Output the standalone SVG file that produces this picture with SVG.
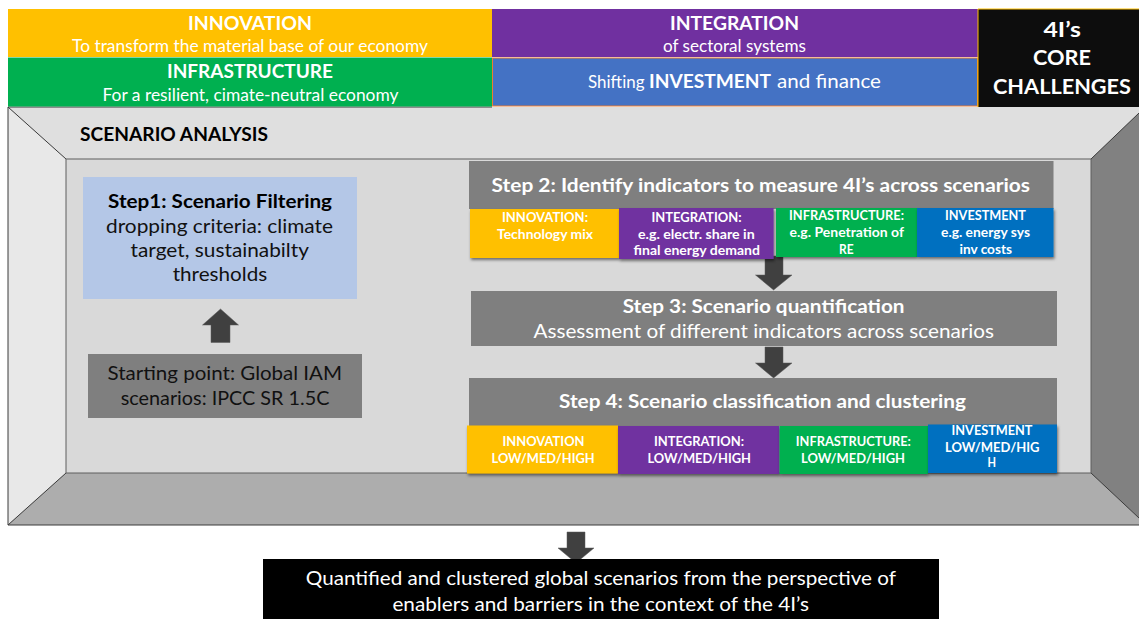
<svg xmlns="http://www.w3.org/2000/svg" width="1139" height="619" viewBox="0 0 1139 619">
<style>
text{font-family:"Lato","Carlito","Open Sans","Liberation Sans",sans-serif;text-anchor:start}
.w{fill:#fff}.k{fill:#000}.d{fill:#111}
.b{font-weight:700}
.s12{font-size:13px}.s16{font-size:16.500px}.s17{font-size:17px}.s18{font-size:19px}.s20{font-size:21px}
.frame{stroke:#3a3a3a;stroke-width:1}
.arrow{fill:#404040;stroke:#5a5a5a;stroke-width:.5}
.yel{fill:#FFC000}.pur{fill:#7030A0}.grn{fill:#00B050}.blu{fill:#0070C0}.gry{fill:#7F7F7F}
.sh{filter:url(#shadow)}
</style>
<defs>
<filter id="shadow" x="-10%" y="-10%" width="120%" height="130%"><feDropShadow dx="1" dy="2" stdDeviation="1.800" flood-color="#000" flood-opacity=".5"/></filter>
</defs>
<rect width="1139" height="619" fill="#fff"/>

<g id="frame">
<rect x="8" y="107" width="1131" height="418" fill="#D9D9D9"/>
<polygon points="8,107 1139,107 1139,113 1091,159 66,159" fill="#DFDFDF"/>
<polygon points="8,107 66,159 66,473 8,525" fill="#E8E8E8"/>
<polygon points="8,525 66,473 1091,473 1139,518 1139,525" fill="#ADADAD"/>
<polygon points="1091,159 1139,113 1139,518 1091,473" fill="#818181"/>
<path class="frame" fill="none" d="M492,107H8V525H1139M8,107L66,159M8,525L66,473M1139,113L1091,159M1139,518L1091,473"/>
<rect x="66" y="159" width="1025" height="314" fill="none" stroke="#5f5f5f" stroke-width="1"/>
<text class="k b s18" x="80" y="140.500" textLength="188" lengthAdjust="spacingAndGlyphs">SCENARIO ANALYSIS</text>
</g>

<g id="connectors">
<polygon class="arrow" points="211,342.500 230,342.500 230,325 238.500,325 220.500,309 202.500,325 211,325"/>
<polygon class="arrow" points="765,256 783,256 783,275 792,275 773.600,290 755.500,275 765,275"/>
<polygon class="arrow" points="765,347 783,347 783,363 792,363 773.600,378 755.500,363 765,363"/>
<polygon class="arrow" points="567,532 585,532 585,548 594,548 576,563 558,548 567,548"/>
</g>

<g id="banner-innovation">
<rect class="yel" x="8" y="9" width="484" height="48"/>
<text class="w b s18" x="188" y="29.500" textLength="124" lengthAdjust="spacingAndGlyphs">INNOVATION</text>
<text class="w s16" x="72" y="51.500" textLength="356" lengthAdjust="spacingAndGlyphs">To transform the material base of our economy</text>
</g>
<g id="banner-infrastructure">
<rect class="grn" x="8" y="57.500" width="484" height="49"/>
<text class="w b s18" x="167" y="78" textLength="166" lengthAdjust="spacingAndGlyphs">INFRASTRUCTURE</text>
<text class="w s16" x="102.500" y="100.500" textLength="296" lengthAdjust="spacingAndGlyphs">For a resilient, cimate-neutral economy</text>
</g>
<g id="banner-integration">
<rect class="pur" x="492" y="9" width="486" height="48"/>
<text class="w b s18" x="670" y="29.500" textLength="129" lengthAdjust="spacingAndGlyphs">INTEGRATION</text>
<text class="w s16" x="663" y="51.500" textLength="143" lengthAdjust="spacingAndGlyphs">of sectoral systems</text>
</g>
<g id="banner-investment">
<rect x="492.500" y="58" width="485" height="48" fill="#4472C4" stroke="#ED7D31" stroke-width="1"/>
<text class="w s18" y="88"><tspan class="s16" x="588" textLength="56.500" lengthAdjust="spacingAndGlyphs">Shifting</tspan> <tspan class="b" x="649" textLength="122" lengthAdjust="spacingAndGlyphs">INVESTMENT</tspan> <tspan x="777" textLength="104" lengthAdjust="spacingAndGlyphs">and finance</tspan></text>
</g>
<g id="banner-core">
<rect x="978" y="9" width="161" height="98" fill="#0D0D0D"/>
<path d="M978,107V9H1139" fill="none" stroke="#FFC000" stroke-width="1"/>
<text class="w b s20" x="1043.500" y="36.500" textLength="37.500" lengthAdjust="spacingAndGlyphs">4I’s</text>
<text class="w b s20" x="1033" y="65" textLength="58" lengthAdjust="spacingAndGlyphs">CORE</text>
<text class="w b s20" x="993" y="94" textLength="138" lengthAdjust="spacingAndGlyphs">CHALLENGES</text>
</g>

<g id="step1">
<rect x="83" y="177" width="274" height="122" fill="#B4C7E7"/>
<text class="k b s18" x="108" y="208" textLength="224" lengthAdjust="spacingAndGlyphs">Step1: Scenario Filtering</text>
<text class="d s18" x="106" y="233" textLength="227" lengthAdjust="spacingAndGlyphs">dropping criteria: climate</text>
<text class="d s18" x="130.500" y="257" textLength="178.500" lengthAdjust="spacingAndGlyphs">target, sustainabilty</text>
<text class="d s18" x="172.700" y="281" textLength="94.500" lengthAdjust="spacingAndGlyphs">thresholds</text>
</g>
<g id="start">
<rect class="gry" x="88" y="354" width="274" height="64"/>
<text class="d s18" x="107.600" y="380" textLength="234.400" lengthAdjust="spacingAndGlyphs">Starting point: Global IAM</text>
<text class="d s18" x="120.700" y="405" textLength="208.800" lengthAdjust="spacingAndGlyphs">scenarios: IPCC SR 1.5C</text>
</g>

<g id="step2">
<rect class="gry" x="469" y="161" width="584.500" height="48"/>
<text class="w b s18" x="491.600" y="191.700" textLength="538.400" lengthAdjust="spacingAndGlyphs">Step 2: Identify indicators to measure 4I’s across scenarios</text>
</g>
<g id="step2-innovation">
<rect class="yel sh" x="470" y="209" width="149" height="49"/>
<text class="w b s12" x="502" y="221.700" textLength="86" lengthAdjust="spacingAndGlyphs">INNOVATION:</text>
<text class="w b s12" x="497" y="238.700" textLength="96" lengthAdjust="spacingAndGlyphs">Technology mix</text>
</g>
<g id="step2-integration">
<rect class="pur sh" x="619" y="208" width="154.600" height="51"/>
<text class="w b s12" x="651.500" y="221.700" textLength="90" lengthAdjust="spacingAndGlyphs">INTEGRATION:</text>
<text class="w b s12" x="638" y="238.700" textLength="116.700" lengthAdjust="spacingAndGlyphs">e.g. electr. share in</text>
<text class="w b s12" x="633.600" y="255" textLength="126.400" lengthAdjust="spacingAndGlyphs">final energy demand</text>
</g>
<g id="step2-infrastructure">
<rect class="grn sh" x="776" y="208" width="141" height="49"/>
<text class="w b s12" x="789" y="220" textLength="115" lengthAdjust="spacingAndGlyphs">INFRASTRUCTURE:</text>
<text class="w b s12" x="789.600" y="237" textLength="114.400" lengthAdjust="spacingAndGlyphs">e.g. Penetration of</text>
<text class="w b s12" x="839" y="254" textLength="14.600" lengthAdjust="spacingAndGlyphs">RE</text>
</g>
<g id="step2-investment">
<rect class="blu sh" x="917" y="208" width="136.500" height="49"/>
<text class="w b s12" x="945" y="220" textLength="81" lengthAdjust="spacingAndGlyphs">INVESTMENT</text>
<text class="w b s12" x="941" y="237" textLength="89" lengthAdjust="spacingAndGlyphs">e.g. energy sys</text>
<text class="w b s12" x="959.500" y="254" textLength="52.500" lengthAdjust="spacingAndGlyphs">inv costs</text>
</g>

<g id="step3">
<rect class="gry" x="471" y="291" width="586" height="55"/>
<text class="w b s18" x="622.700" y="312.500" textLength="281.800" lengthAdjust="spacingAndGlyphs">Step 3: Scenario quantification</text>
<text class="w s18" x="533.500" y="338" textLength="460.500" lengthAdjust="spacingAndGlyphs">Assessment of different indicators across scenarios</text>
</g>

<g id="step4">
<rect class="gry" x="469" y="378" width="588" height="48"/>
<text class="w b s18" x="559" y="408" textLength="407" lengthAdjust="spacingAndGlyphs">Step 4: Scenario classification and clustering</text>
</g>
<g id="step4-innovation">
<rect class="yel sh" x="467" y="425.500" width="151" height="48"/>
<text class="w b s12" x="502.500" y="445.700" textLength="82" lengthAdjust="spacingAndGlyphs">INNOVATION</text>
<text class="w b s12" x="491.600" y="462.700" textLength="103" lengthAdjust="spacingAndGlyphs">LOW/MED/HIGH</text>
</g>
<g id="step4-integration">
<rect class="pur sh" x="618" y="426" width="161.500" height="48"/>
<text class="w b s12" x="654" y="445.700" textLength="90" lengthAdjust="spacingAndGlyphs">INTEGRATION:</text>
<text class="w b s12" x="647.500" y="462.700" textLength="103.500" lengthAdjust="spacingAndGlyphs">LOW/MED/HIGH</text>
</g>
<g id="step4-infrastructure">
<rect class="grn sh" x="779.500" y="426" width="148.500" height="48"/>
<text class="w b s12" x="795.800" y="445.700" textLength="115" lengthAdjust="spacingAndGlyphs">INFRASTRUCTURE:</text>
<text class="w b s12" x="801" y="462.700" textLength="104" lengthAdjust="spacingAndGlyphs">LOW/MED/HIGH</text>
</g>
<g id="step4-investment">
<rect class="blu sh" x="928" y="424.500" width="129" height="48.500"/>
<text class="w b s12" x="951.500" y="434.700" textLength="81" lengthAdjust="spacingAndGlyphs">INVESTMENT</text>
<text class="w b s12" x="945" y="451.700" textLength="94.500" lengthAdjust="spacingAndGlyphs">LOW/MED/HIG</text>
<text class="w b s12" x="987.500" y="467" textLength="8.500" lengthAdjust="spacingAndGlyphs">H</text>
</g>

<g id="result">
<rect x="263" y="559" width="676" height="60" fill="#000"/>
<text class="w s18" x="305.800" y="585" textLength="590.200" lengthAdjust="spacingAndGlyphs">Quantified and clustered global scenarios from the perspective of</text>
<text class="w s18" x="392.400" y="610.700" textLength="416.600" lengthAdjust="spacingAndGlyphs">enablers and barriers in the context of the 4I’s</text>
</g>
</svg>
